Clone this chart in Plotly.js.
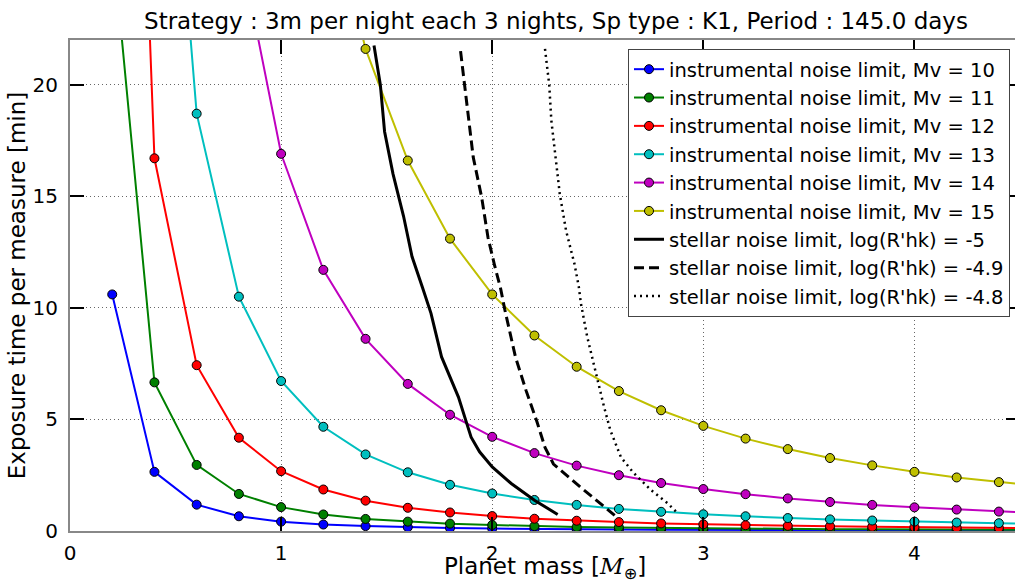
<!DOCTYPE html>
<html>
<head>
<meta charset="utf-8">
<script src="https://cdn.plot.ly/plotly-3.0.1.min.js"></script>
<style>
  html, body { margin: 0; padding: 0; overflow: hidden; background: #fff; }
  #chart { width: 1020px; height: 583px; }
</style>
</head>
<body>
<div id="chart"></div>
<script>
// Planet mass grid [Earth masses]
const mass = [0.2, 0.4, 0.6, 0.8, 1.0, 1.2, 1.4, 1.6, 1.8, 2.0, 2.2, 2.4,
              2.6, 2.8, 3.0, 3.2, 3.4, 3.6, 3.8, 4.0, 4.2, 4.4, 4.6];

// Exposure time [min] needed at the instrumental noise limit, per magnitude
const tMv10 = [10.6, 2.65, 1.18, 0.66, 0.42, 0.29, 0.22, 0.17, 0.13, 0.11, 0.088, 0.074,
               0.063, 0.054, 0.047, 0.041, 0.037, 0.033, 0.029, 0.027, 0.024, 0.022, 0.020];
const tMv11 = [26.6, 6.66, 2.96, 1.66, 1.07, 0.74, 0.54, 0.42, 0.33, 0.27, 0.22, 0.18,
               0.16, 0.14, 0.12, 0.10, 0.092, 0.082, 0.074, 0.067, 0.060, 0.055, 0.050];
const tMv12 = [66.9, 16.7, 7.43, 4.18, 2.68, 1.86, 1.36, 1.04, 0.83, 0.67, 0.55, 0.46,
               0.40, 0.34, 0.30, 0.26, 0.23, 0.21, 0.19, 0.17, 0.15, 0.14, 0.13];
const tMv13 = [168, 42.0, 18.7, 10.5, 6.72, 4.67, 3.43, 2.63, 2.07, 1.68, 1.39, 1.17,
               0.99, 0.86, 0.75, 0.66, 0.58, 0.52, 0.47, 0.42, 0.38, 0.35, 0.32];
const tMv14 = [422, 105.5, 46.9, 26.4, 16.9, 11.7, 8.61, 6.59, 5.21, 4.22, 3.49, 2.93,
               2.50, 2.15, 1.88, 1.65, 1.46, 1.30, 1.17, 1.06, 0.96, 0.87, 0.80];
const tMv15 = [1060, 265, 117.8, 66.3, 42.4, 29.4, 21.6, 16.6, 13.1, 10.6, 8.76, 7.36,
               6.27, 5.41, 4.71, 4.14, 3.67, 3.27, 2.94, 2.65, 2.40, 2.19, 2.00];

// Stellar noise limits for three activity levels
const rhk50X = [1.44, 1.47, 1.49, 1.53, 1.58, 1.62, 1.67, 1.71, 1.76, 1.84, 1.88, 1.90, 1.94, 2.00, 2.09, 2.20, 2.31];
const rhk50Y = [21.75, 20.0, 17.9, 16.0, 14.1, 12.3, 10.9, 9.75, 7.8, 6.0, 4.8, 4.2, 3.55, 2.87, 2.13, 1.38, 0.74];
const rhk49X = [1.85, 1.87, 1.89, 1.91, 1.95, 1.98, 2.01, 2.04, 2.06, 2.11, 2.16, 2.21, 2.25, 2.29, 2.42, 2.51, 2.58];
const rhk49Y = [21.5, 20.0, 18.5, 16.75, 14.95, 13.15, 11.95, 10.85, 9.9, 7.8, 6.3, 4.95, 3.75, 3.0, 1.95, 1.25, 0.7];
const rhk48X = [2.25, 2.27, 2.28, 2.30, 2.32, 2.35, 2.39, 2.41, 2.42, 2.45, 2.49, 2.53, 2.56, 2.61, 2.67, 2.75, 2.83, 2.88];
const rhk48Y = [21.6, 20.0, 18.4, 16.75, 15.1, 13.45, 11.95, 10.95, 10.2, 8.7, 7.05, 5.55, 4.5, 3.3, 2.6, 1.85, 1.25, 0.78];

const magnitudes = [10, 11, 12, 13, 14, 15];
const instrumental = [tMv10, tMv11, tMv12, tMv13, tMv14, tMv15];
const magColors = ['#0000ff', '#008000', '#ff0000', '#00bfbf', '#bf00bf', '#bfbf00'];

const traces = [];
magnitudes.forEach((mv, i) => {
  traces.push({
    x: mass, y: instrumental[i],
    type: 'scatter', mode: 'lines+markers',
    name: 'instrumental noise limit, Mv = ' + mv,
    legendgroup: 'mv' + mv,
    line: { color: magColors[i], width: 2 },
    marker: { size: 9, color: magColors[i], line: { color: '#000', width: 1 } }
  });
});

const stellar = [
  { x: rhk50X, y: rhk50Y, label: '-5',   dash: 'solid',    width: 3 },
  { x: rhk49X, y: rhk49Y, label: '-4.9', dash: '10px,5px', width: 3 },
  { x: rhk48X, y: rhk48Y, label: '-4.8', dash: '2px,4px',  width: 2.5 }
];
stellar.forEach(s => {
  traces.push({
    x: s.x, y: s.y,
    type: 'scatter', mode: 'lines',
    name: "stellar noise limit, log(R'hk) = " + s.label,
    legendgroup: 'rhk' + s.label,
    line: { color: '#000', width: s.width, dash: s.dash }
  });
});

const axisCommon = {
  ticks: 'inside', ticklen: 14, tickwidth: 2, tickcolor: '#000',
  showline: true, linecolor: '#888', linewidth: 2, mirror: 'ticks',
  showgrid: true, gridcolor: '#666', gridwidth: 1, griddash: '1px,3px',
  zeroline: false,
  tickfont: { size: 20, color: '#000' }
};

const layout = {
  width: 1020, height: 583,
  margin: { l: 70, r: 0, t: 40, b: 52 },
  paper_bgcolor: '#fff', plot_bgcolor: '#fff',
  font: { family: 'DejaVu Sans', color: '#000' },
  title: {
    text: 'Strategy : 3m per night each 3 nights, Sp type : K1, Period : 145.0 days',
    font: { size: 23, color: '#000' },
    xref: 'container', x: 556 / 1020, xanchor: 'center',
    yref: 'container', y: 1 - 21 / 583, yanchor: 'middle'
  },
  xaxis: Object.assign({}, axisCommon, {
    range: [0, 4.5], tickvals: [0, 1, 2, 3, 4],
    ticklabelstandoff: 3,
    title: {
      text: 'Planet mass [<span style="font-family:DejaVu Serif"><i>M</i></span><sub>⊕</sub>]',
      font: { size: 23 }, standoff: 6
    }
  }),
  yaxis: Object.assign({}, axisCommon, {
    range: [0, 22], tickvals: [0, 5, 10, 15, 20],
    ticklabelstandoff: 6,
    title: { text: 'Exposure time per measure [min]', font: { size: 23 }, standoff: 0 }
  }),
  legend: {
    x: (1010 - 70) / 950, xanchor: 'right',
    y: (531 - 49) / 491, yanchor: 'top',
    bgcolor: '#fff', bordercolor: '#444', borderwidth: 1,
    font: { size: 19.5, color: '#000' },
    tracegroupgap: 0, traceorder: 'grouped', itemwidth: 30
  },
  showlegend: true
};

Plotly.newPlot('chart', traces, layout, { displayModeBar: false, staticPlot: true });
</script>
</body>
</html>
